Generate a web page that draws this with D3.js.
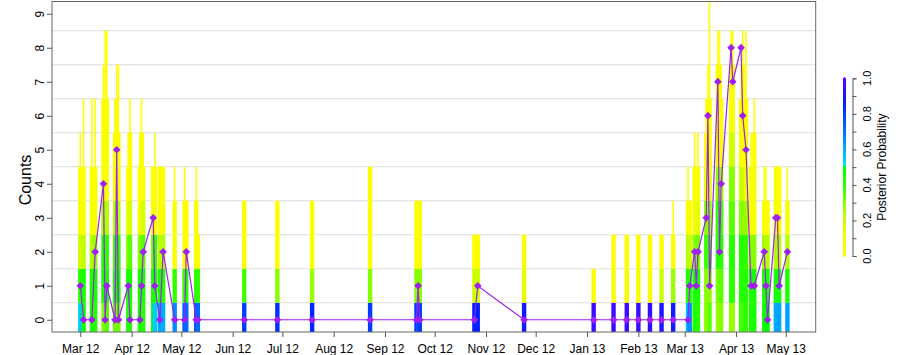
<!DOCTYPE html>
<html><head><meta charset="utf-8">
<script src="https://cdn.jsdelivr.net/npm/d3@7"></script>
<style>
body{margin:0;background:#fff}
svg{display:block}
text{font-family:"Liberation Sans",Arial,Helvetica,sans-serif;fill:#000}
</style></head>
<body><svg id="chart" width="913" height="355"></svg>
<script>
// ---------- data ----------
const obsDates = ["2012-03-01","2012-03-03","2012-03-08","2012-03-10","2012-03-15","2012-03-16","2012-03-17",
"2012-03-22","2012-03-23","2012-03-24","2012-03-30","2012-03-31","2012-04-06","2012-04-07","2012-04-08",
"2012-04-14","2012-04-15","2012-04-18","2012-04-20","2012-04-27","2012-05-03","2012-05-04","2012-05-10",
"2012-05-11","2012-06-08","2012-06-28","2012-07-19","2012-08-23","2012-09-20","2012-09-21","2012-09-22",
"2012-10-25","2012-10-27","2012-11-24","2013-01-05","2013-01-17","2013-01-25","2013-02-01","2013-02-08",
"2013-02-15","2013-02-22","2013-03-03","2013-03-04","2013-03-07","2013-03-08","2013-03-09","2013-03-14",
"2013-03-15","2013-03-16","2013-03-21","2013-03-22","2013-03-23","2013-03-29","2013-03-30","2013-04-04",
"2013-04-05","2013-04-07","2013-04-10","2013-04-12","2013-04-18","2013-04-19","2013-04-20","2013-04-25",
"2013-04-26","2013-04-27","2013-05-02"];
const obsCounts = [1,0,0,2,4,0,1, 0,5,0,1,0,0,1,2, 3,1,0,2,0,0,2,0, 0,0,0,0,0,0,1,0, 0,1,0,0,0,0,0,0,
0,0,0,1,2,1,2,3, 6,1,7,2,4,8,7,8, 6,5,1,1,2,1,0,3, 3,1,2];
// posterior probability of each count level (0,1,2,...) for every observation
const postProbs = [
[0.55,0.42,0.2,0.08,0.04,0.01],
[0.46,0.45,0.22,0.08,0.04,0.02,0.01],
[0.44,0.45,0.25,0.1,0.05,0.02,0.01],
[0.42,0.45,0.28,0.12,0.05,0.02,0.01],
[0.3,0.45,0.42,0.28,0.12,0.05,0.03,0.01],
[0.32,0.45,0.42,0.25,0.1,0.05,0.03,0.02,0.01],
[0.35,0.45,0.4,0.25,0.1,0.05,0.03,0.02,0.01],
[0.35,0.45,0.38,0.22,0.08,0.04,0.01],
[0.3,0.45,0.42,0.28,0.12,0.05,0.03,0.01],
[0.33,0.45,0.4,0.25,0.1,0.05,0.02,0.01],
[0.45,0.45,0.3,0.15,0.05,0.02],
[0.42,0.45,0.35,0.18,0.06,0.03,0.01],
[0.45,0.45,0.3,0.12,0.05,0.02],
[0.45,0.45,0.32,0.14,0.05,0.03,0.01],
[0.42,0.45,0.35,0.18,0.06,0.02],
[0.48,0.45,0.3,0.1,0.03],
[0.55,0.45,0.4,0.1,0.04,0.01],
[0.62,0.45,0.25,0.08,0.03],
[0.6,0.42,0.25,0.08,0.03],
[0.66,0.4,0.1,0.05,0.02],
[0.75,0.4,0.1,0.05,0.01],
[0.72,0.42,0.1,0.04],
[0.75,0.4,0.1,0.04,0.01],
[0.72,0.4,0.1],
[0.8,0.38,0.06,0.04],
[0.82,0.3,0.06,0.04],
[0.84,0.28,0.05,0.04],
[0.8,0.3,0.06,0.04,0.03],
[0.8,0.3,0.05,0.04],
[0.75,0.3,0.06,0.04],
[0.8,0.3,0.05,0.04],
[0.85,0.2,0.04],
[0.85,0.2,0.04],
[0.88,0.15,0.04],
[0.95,0.05],
[0.95,0.08,0.03],
[0.95,0.08,0.03],
[0.94,0.1,0.03],
[0.93,0.12,0.03],
[0.9,0.2,0.04],
[0.88,0.28,0.06,0.02],
[0.58,0.45,0.25,0.08,0.02],
[0.66,0.42,0.22,0.06],
[0.45,0.45,0.3,0.15,0.05,0.02],
[0.45,0.45,0.3,0.12,0.05],
[0.42,0.45,0.32,0.15,0.06,0.02],
[0.3,0.3,0.4,0.3,0.15,0.06,0.02],
[0.3,0.3,0.38,0.3,0.15,0.08,0.04,0.02],
[0.35,0.3,0.38,0.3,0.15,0.08,0.04,0.02,0.01,0.01],
[0.28,0.32,0.42,0.4,0.3,0.15,0.08,0.04,0.02],
[0.28,0.32,0.42,0.4,0.3,0.15,0.08,0.04,0.02],
[0.3,0.35,0.42,0.38,0.28,0.12,0.06,0.02],
[0.28,0.4,0.42,0.35,0.3,0.2,0.1,0.05,0.02],
[0.28,0.4,0.42,0.35,0.3,0.2,0.1,0.05,0.02],
[0.38,0.42,0.42,0.3,0.2,0.1,0.04],
[0.38,0.42,0.42,0.3,0.2,0.1,0.05,0.03,0.01],
[0.4,0.42,0.4,0.28,0.15,0.08,0.04,0.02,0.01],
[0.45,0.45,0.3,0.12,0.05,0.02],
[0.45,0.45,0.3,0.12,0.05,0.03,0.01],
[0.45,0.45,0.28,0.08,0.02],
[0.48,0.45,0.25,0.07,0.02],
[0.5,0.45,0.25,0.05],
[0.6,0.45,0.25,0.08,0.03],
[0.6,0.45,0.25,0.08,0.03],
[0.62,0.45,0.25,0.08,0.03],
[0.62,0.45,0.25,0.08,0.02]
];
const yTicks = [0,1,2,3,4,5,6,7,8,9];
const gridLevels = [0.5,1.5,2.5,3.5,4.5,5.5,6.5,7.5,8.5];
const xTickDates = ["2012-03-01","2012-04-01","2012-05-01","2012-06-01","2012-07-01","2012-08-01","2012-09-01",
"2012-10-01","2012-11-01","2012-12-01","2013-01-01","2013-02-01","2013-03-01","2013-04-01","2013-05-01"];
const legendTicks = [0,0.1,0.2,0.3,0.4,0.5,0.6,0.7,0.8,0.9,1.0];
const legendLabels = [0,0.2,0.4,0.6,0.8,1.0];
const colorStops = [0,0.12,0.25,0.4,0.5,0.5001,0.65,0.85,1];
const colorRange = ["#ffff00","#f8ff00","#b4ff00","#30ff00","#00ff00","#00e8ff","#0090ff","#0020ff","#5a00ff"];

// ---------- setup ----------
const svg = d3.select("#chart");
const L = 52, R = 815.7, T = 1.5, B = 332;
const parse = d3.utcParse("%Y-%m-%d");
const dates = obsDates.map(parse);
const d0 = dates[0], d1 = dates[dates.length-1];
const span = d1 - d0;
const x = d3.scaleUtc().domain([new Date(+d0 - 0.04*span), new Date(+d1 + 0.04*span)]).range([L, R]);
const y = d3.scaleLinear().domain([-0.36, 9.36]).range([B, T]);
const col = d3.scaleLinear().domain(colorStops).range(colorRange).clamp(true);

svg.append("defs").append("clipPath").attr("id","plotclip")
  .append("rect").attr("x",L).attr("y",T).attr("width",R-L).attr("height",B-T);

// gridlines
svg.append("g").selectAll("line").data(gridLevels).join("line")
  .attr("x1",L).attr("x2",R).attr("y1",d=>y(d)).attr("y2",d=>y(d))
  .attr("stroke","#dedede").attr("stroke-width",1);

// probability strips
const cells = [];
dates.forEach((d,i)=>{
  postProbs[i].forEach((p,k)=>cells.push({d,k,p}));
});
const wide = 4.4, thin = 1.6;
svg.append("g").attr("clip-path","url(#plotclip)").selectAll("rect").data(cells).join("rect")
  .attr("x",c=>x(c.d)-(c.p<0.03?thin:wide)/2)
  .attr("width",c=>c.p<0.03?thin:wide)
  .attr("y",c=>y(c.k+0.5))
  .attr("height",c=>y(c.k-0.5)-y(c.k+0.5))
  .attr("fill",c=>col(c.p));

// observed count line + diamonds
const pts = dates.map((d,i)=>({d,c:obsCounts[i]}));
svg.append("path").datum(pts)
  .attr("d",d3.line().x(p=>x(p.d)).y(p=>y(p.c)))
  .attr("fill","none").attr("stroke","#a020f0").attr("stroke-width",1.2);
svg.append("g").selectAll("path").data(pts).join("path")
  .attr("d",d3.symbol().type(d3.symbolSquare).size(30))
  .attr("transform",p=>`translate(${x(p.d)},${y(p.c)}) rotate(45)`)
  .attr("fill","#a020f0");

// box
svg.append("rect").attr("x",L).attr("y",T).attr("width",R-L).attr("height",B-T)
  .attr("fill","none").attr("stroke","#666").attr("stroke-width",1);

// x axis
const xa = svg.append("g").attr("transform",`translate(0,${B})`)
  .call(d3.axisBottom(x).tickValues(xTickDates.map(parse)).tickFormat(d3.utcFormat("%b %y")).tickSize(5).tickSizeOuter(0));
xa.select(".domain").remove();
xa.selectAll("line").attr("stroke","#555");
xa.selectAll("text").attr("font-size",12).attr("dy","1.05em").style("font-family","Liberation Sans, Arial, sans-serif");

// y axis
const ya = svg.append("g").attr("transform",`translate(${L},0)`)
  .call(d3.axisLeft(y).tickValues(yTicks).tickFormat(d3.format("d")).tickSize(5).tickSizeOuter(0));
ya.select(".domain").remove();
ya.selectAll("line").attr("stroke","#555");
ya.selectAll("text").attr("font-size",12).attr("x",0).attr("dy",0)
  .attr("text-anchor","middle")
  .attr("transform","translate(-8,0) rotate(-90)")
  .style("font-family","Liberation Sans, Arial, sans-serif");

svg.append("text").attr("transform","translate(31,180) rotate(-90)")
  .attr("text-anchor","middle").attr("font-size",16).text("Counts");

// ---------- colour legend ----------
const ly = d3.scaleLinear().domain([0,1]).range([256,78.3]);
const grad = svg.select("defs").append("linearGradient").attr("id","pgrad")
  .attr("x1",0).attr("y1",1).attr("x2",0).attr("y2",0);
d3.range(0,1.0001,0.01).forEach(v=>{
  grad.append("stop").attr("offset",v).attr("stop-color",col(v));
});
svg.append("rect").attr("x",843).attr("y",ly(1)-1).attr("width",3).attr("height",ly(0)-ly(1)+2)
  .attr("rx",1.5).attr("fill","url(#pgrad)");
const la = svg.append("g").attr("transform","translate(852.5,0)")
  .call(d3.axisRight(ly).tickValues(legendTicks).tickSize(4).tickFormat(""));
la.select(".domain").attr("stroke","#555");
la.selectAll("line").attr("stroke","#555");
svg.append("g").selectAll("text").data(legendLabels).join("text")
  .attr("transform",v=>`translate(871,${ly(v)}) rotate(-90)`)
  .attr("text-anchor","middle").attr("font-size",11).text(d3.format(".1f"));
svg.append("text").attr("transform",`translate(886,${ly(0.5)}) rotate(-90)`)
  .attr("text-anchor","middle").attr("font-size",12).text("Posterior Probability");
</script></body></html>
